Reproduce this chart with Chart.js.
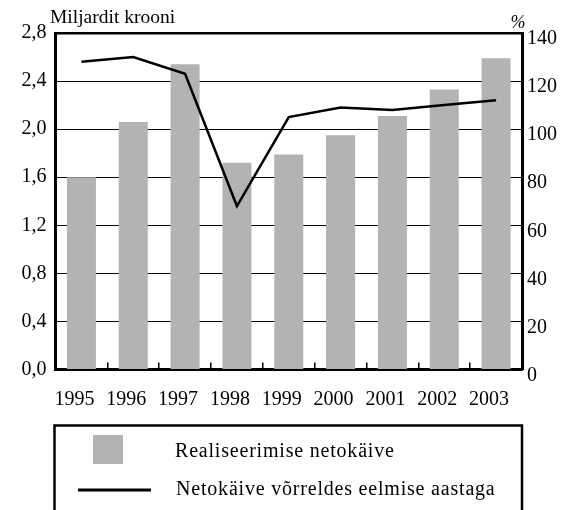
<!DOCTYPE html>
<html lang="et">
<head>
<meta charset="UTF-8">
<title>Netokäive</title>
<script src="https://cdn.jsdelivr.net/npm/chart.js@4.4.0/dist/chart.umd.min.js"></script>
<style>
  body { margin: 0; background: #fff; }
</style>
</head>
<body>
<canvas id="chart" width="567" height="510"></canvas>
<script>
// andmed
var years = ['1995', '1996', '1997', '1998', '1999', '2000', '2001', '2002', '2003'];
var netSales = [1.6, 2.06, 2.54, 1.72, 1.79, 1.95, 2.11, 2.33, 2.59];   // miljardit krooni
var changePct = [128, 130, 123, 68, 105, 109, 108, 110, 112];         // %
var leftTitle = 'Miljardit krooni';
var rightTitle = '%';
var barLabel = 'Realiseerimise netokäive';
var lineLabel = 'Netokäive võrreldes eelmise aastaga';

var FONT = '"Liberation Serif", "Times New Roman", serif';
var GREY = '#b3b3b3';

// pealkirjad ja legendikast
var decorations = {
  id: 'decorations',
  afterDraw: function (chart) {
    var ctx = chart.ctx;
    var area = chart.chartArea;
    var ds = chart.data.datasets;
    var bar = ds.filter(function (d) { return d.type === 'bar'; })[0];
    var line = ds.filter(function (d) { return d.type === 'line'; })[0];

    ctx.save();
    ctx.fillStyle = '#000';
    ctx.font = '19.5px ' + FONT;
    ctx.textAlign = 'left';
    ctx.textBaseline = 'alphabetic';
    ctx.fillText(leftTitle, 50, 23);
    ctx.font = 'italic 18px ' + FONT;
    ctx.textAlign = 'center';
    ctx.fillText(rightTitle, 518, 28);

    // legend
    var top = 425.5;
    ctx.strokeStyle = '#000';
    ctx.lineWidth = 2.5;
    ctx.strokeRect(area.left - 1, top, area.right - area.left + 1, 120);

    ctx.fillStyle = bar.backgroundColor;
    ctx.fillRect(93, 435, 30, 29);
    ctx.beginPath();
    ctx.moveTo(78, 490);
    ctx.lineTo(151, 490);
    ctx.lineWidth = 3;
    ctx.strokeStyle = line.borderColor;
    ctx.stroke();

    ctx.fillStyle = '#000';
    ctx.font = '20px ' + FONT;
    if ('letterSpacing' in ctx) ctx.letterSpacing = '0.8px';
    ctx.textAlign = 'left';
    ctx.textBaseline = 'middle';
    ctx.fillText(bar.label, 175, 452);
    ctx.fillText(line.label, 176, 490);
    ctx.restore();
  }
};

var ctx = document.getElementById('chart').getContext('2d');
new Chart(ctx, {
  data: {
    labels: years,
    datasets: [
      {
        type: 'line',
        label: lineLabel,
        data: changePct,
        yAxisID: 'y1',
        borderColor: '#000',
        borderWidth: 2.5,
        pointRadius: 0,
        tension: 0,
        order: 0
      },
      {
        type: 'bar',
        label: barLabel,
        data: netSales,
        yAxisID: 'y',
        backgroundColor: GREY,
        borderWidth: 0,
        barPercentage: 0.56,
        categoryPercentage: 1,
        order: 1
      }
    ]
  },
  options: {
    responsive: false,
    animation: false,
    layout: { padding: { top: 33, left: 0, right: 0, bottom: 0 } },
    plugins: {
      legend: { display: false },
      tooltip: { enabled: false }
    },
    scales: {
      x: {
        offset: true,
        grid: {
          offset: true,
          drawOnChartArea: false,
          drawTicks: true,
          tickLength: -7,
          color: '#000',
          lineWidth: 1.5
        },
        border: { display: true, color: '#000', width: 3 },
        ticks: {
          color: '#000',
          font: { family: FONT, size: 20 },
          padding: 25,
          labelOffset: -7,
          maxRotation: 0
        },
        afterFit: function (scale) { scale.height = 140.5; }
      },
      y: {
        position: 'left',
        min: 0,
        max: 2.8,
        ticks: {
          stepSize: 0.4,
          color: '#000',
          padding: 9,
          font: { family: FONT, size: 20 },
          callback: function (v) { return v.toFixed(1).replace('.', ','); }
        },
        grid: {
          color: '#000',
          lineWidth: function (c) { return c.tick && c.tick.value === 2.8 ? 2.5 : 1; },
          drawTicks: false
        },
        border: { display: true, color: '#000', width: 3 },
        afterFit: function (scale) { scale.width = 55.5; }
      },
      y1: {
        position: 'right',
        min: 0,
        max: 140,
        ticks: {
          stepSize: 20,
          color: '#000',
          padding: 5,
          labelOffset: 6,
          font: { family: FONT, size: 20 }
        },
        grid: { drawOnChartArea: false, drawTicks: false },
        border: { display: true, color: '#000', width: 3 },
        afterFit: function (scale) { scale.width = 45; }
      }
    }
  },
  plugins: [decorations]
});
</script>
</body>
</html>
